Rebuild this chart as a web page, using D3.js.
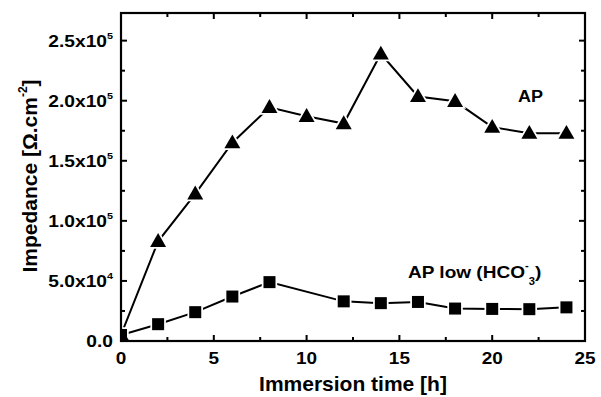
<!DOCTYPE html>
<html><head><meta charset="utf-8">
<script src="https://cdn.jsdelivr.net/npm/d3@7"></script>
<style>body{margin:0;background:#fff}svg{display:block;font-family:"Liberation Sans",Arial,sans-serif;font-weight:bold}</style>
</head><body>
<svg id="c" width="601" height="397"></svg>
<script>
const time = [0,2,4,6,8,10,12,14,16,18,20,22,24];
const apValues = [5000,83000,122500,165000,194500,187000,181000,239000,203500,199500,178000,173000,173000];
const lowTime = [0,2,4,6,8,12,14,16,18,20,22,24];
const apLowValues = [5000,14000,24000,37000,49000,33000,31500,32500,27000,26700,26500,28000];
const xTicks = [0,5,10,15,20,25];
const yTicks = [0,50000,100000,150000,200000,250000];
const yTickLabels = [["0.0",""],["5.0x10","4"],["1.0x10","5"],["1.5x10","5"],["2.0x10","5"],["2.5x10","5"]];

const svg = d3.select("#c");
const L=121,R=585,T=13,B=341;
const x = d3.scaleLinear().domain([0,25]).range([L,R]);
const y = d3.scaleLinear().domain([0,273000]).range([B,T]);

svg.append("defs").append("clipPath").attr("id","plot")
  .append("rect").attr("x",L).attr("y",T).attr("width",R-L).attr("height",B-T);

// minor + major ticks inward on all four sides
const g = svg.append("g");
const xMinor = d3.range(0,25.01,2.5), yMinor = d3.range(0,273000,25000);
xMinor.forEach(v=>{
  const maj = Math.abs(v%5)<1e-9; const len = maj?6:4;
  g.append("line").attr("x1",x(v)).attr("x2",x(v)).attr("y1",B).attr("y2",B-len).attr("stroke","#000").attr("stroke-width",2);
  g.append("line").attr("x1",x(v)).attr("x2",x(v)).attr("y1",T).attr("y2",T+len).attr("stroke","#000").attr("stroke-width",2);
});
yMinor.forEach(v=>{
  const maj = Math.abs(v%50000)<1e-6; const len = maj?6:4;
  g.append("line").attr("x1",L).attr("x2",L+len).attr("y1",y(v)).attr("y2",y(v)).attr("stroke","#000").attr("stroke-width",2);
  g.append("line").attr("x1",R).attr("x2",R-len).attr("y1",y(v)).attr("y2",y(v)).attr("stroke","#000").attr("stroke-width",2);
});

// tick labels (glyphs in reference are horizontally wider)
xTicks.forEach(v=>{
  svg.append("text").attr("transform","translate("+x(v)+","+(B+23)+") scale(1.15,1)")
    .attr("text-anchor","middle").attr("font-size",16.5).text(v);
});
yTicks.forEach((v,i)=>{
  const t = svg.append("text").attr("transform","translate(113,"+(y(v)+6)+") scale(1.2,1)")
    .attr("text-anchor","end").attr("font-size",16);
  const lab = yTickLabels[i];
  t.append("tspan").text(lab[0]);
  if(lab[1]) t.append("tspan").attr("font-size",9).attr("dy",-8).text(lab[1]);
});

// axis titles
svg.append("text").attr("x",(L+R)/2).attr("y",391).attr("text-anchor","middle").attr("font-size",21).text("Immersion time [h]");
const yt = svg.append("text").attr("transform","translate(37,176) rotate(-90)").attr("text-anchor","middle").attr("font-size",21);
yt.append("tspan").text("Impedance [Ω.cm");
yt.append("tspan").attr("font-size",12).attr("dy",-10).text("-2");
yt.append("tspan").attr("dy",10).text("]");

// data layer clipped to plot area
const pg = svg.append("g").attr("clip-path","url(#plot)");
const line = d3.line().x(d=>x(d[0])).y(d=>y(d[1]));
const apData = time.map((t,i)=>[t,apValues[i]]);
const lowData = lowTime.map((t,i)=>[t,apLowValues[i]]);
pg.append("path").datum(apData).attr("d",line).attr("fill","none").attr("stroke","#000").attr("stroke-width",2);
pg.append("path").datum(lowData).attr("d",line).attr("fill","none").attr("stroke","#000").attr("stroke-width",2);

const tri = d3.symbol().type(d3.symbolTriangle).size(110);
pg.selectAll(".tri").data(apData).enter().append("path")
  .attr("d",tri).attr("transform",d=>"translate("+x(d[0])+","+(y(d[1])+1)+")")
  .attr("fill","#000").attr("stroke","#fff").attr("stroke-width",3.5);
pg.selectAll(".sq").data(lowData).enter().append("rect")
  .attr("x",d=>x(d[0])-6).attr("y",d=>y(d[1])-6).attr("width",12).attr("height",12)
  .attr("fill","#000").attr("stroke","#fff").attr("stroke-width",3.5);
pg.selectAll(".sq2").data(lowData).enter().append("rect")
  .attr("x",d=>x(d[0])-6).attr("y",d=>y(d[1])-6).attr("width",12).attr("height",12).attr("fill","#000");
pg.selectAll(".tri2").data(apData).enter().append("path")
  .attr("d",tri).attr("transform",d=>"translate("+x(d[0])+","+(y(d[1])+1)+")").attr("fill","#000");

// frame on top
svg.append("rect").attr("x",L).attr("y",T).attr("width",R-L).attr("height",B-T).attr("fill","none").attr("stroke","#000").attr("stroke-width",2.2);

// series labels
svg.append("text").attr("transform","translate(518,102) scale(1.06,1)").attr("font-size",17).text("AP");
const lt = svg.append("text").attr("transform","translate(408,278) scale(1.12,1)").attr("font-size",17);
lt.append("tspan").text("AP low (HCO");
lt.append("tspan").attr("font-size",10).attr("dy",-9).text("-");
lt.append("tspan").attr("font-size",10).attr("dy",16).text("3");
lt.append("tspan").attr("dy",-7).text(")");
</script>
</body></html>
